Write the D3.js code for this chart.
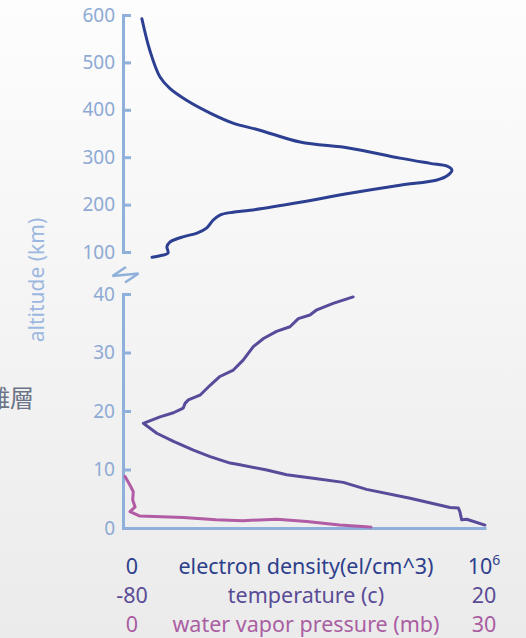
<!DOCTYPE html>
<html><head><meta charset="utf-8">
<script src="https://cdn.jsdelivr.net/npm/d3@7"></script>
<style>
html,body{margin:0;padding:0;}
body{width:526px;height:638px;overflow:hidden;}
</style>
</head><body>
<svg id="c" width="526" height="638"></svg>
<script>
// ---- data ----
// electron density profile: [density el/cm^3, altitude km]
const electronDensity = [
  [52000,592],[74000,525],[102000,469],[129000,445],[175000,420],[240000,393],
  [303000,372],[377000,357],[488000,332],[625000,319],[763000,298],[846000,287],
  [893000,281],[906000,273],[895000,262],[865000,252],[763000,241],[625000,224],
  [488000,205],[350000,188],[303000,184],[267000,178],[248000,167],[231000,151],
  [204000,140],[165000,132],[129000,121],[121000,111],[124000,98],[102000,92],[80000,89]
];
// temperature profile: [temperature C, altitude km]
const temperature = [
  [-16.6,39.5],[-22.1,38.4],[-26.6,37.3],[-28.5,36.4],[-31.7,35.8],[-34,34.4],
  [-37.7,33.6],[-41.3,32.4],[-44.1,31.0],[-46.9,28.7],[-49.6,27.0],[-53.3,25.9],
  [-56,24.4],[-58.8,22.7],[-62,21.9],[-62.9,21.3],[-63.4,20.5],[-66.1,19.7],
  [-69.8,19.0],[-74.4,17.9],[-70.7,16.2],[-66.1,14.8],[-60.6,13.3],[-56,12.2],
  [-50.5,11.1],[-47.8,10.8],[-40.4,9.9],[-34.9,9.1],[-26.6,8.4],[-19.3,7.8],
  [-12.9,6.6],[-0.9,5.1],[10.1,3.5],[12.4,3.4],[12.8,2.8],[13.3,1.4],[14.7,1.5],[19.7,0.5]
];
// water vapour pressure profile: [pressure mb, altitude km]
const waterVapor = [
  [0.17,8.8],[0.58,7.3],[0.85,6.2],[0.8,4.8],[1.0,3.6],[0.58,2.8],[1.4,2.05],
  [5.0,1.8],[7.7,1.4],[9.9,1.25],[12.7,1.5],[15.2,1.1],[17.9,0.5],[20.1,0.2],[20.5,0.15]
];
const upperTicks = [100,200,300,400,500,600];
const lowerTicks = [0,10,20,30,40];
const densityDomain = [0,1e6];
const tempDomain = [-80,20];
const vaporDomain = [0,30];
const bottomRows = [
  {left:"0", name:"electron density(el/cm^3)", right:"10", sup:"6", color:"#2e3f8c"},
  {left:"-80", name:"temperature (c)", right:"20", sup:"", color:"#5a4c96"},
  {left:"0", name:"water vapor pressure (mb)", right:"30", sup:"", color:"#aa5ea2"}
];

// ---- drawing ----
const svg = d3.select("#c");
const defs = svg.append("defs");
const grad = defs.append("linearGradient").attr("id","bg").attr("x1",0).attr("y1",0).attr("x2",0).attr("y2",1);
grad.append("stop").attr("offset","0%").attr("stop-color","#fdfdfd");
grad.append("stop").attr("offset","100%").attr("stop-color","#ebebeb");
svg.append("rect").attr("width",526).attr("height",638).attr("fill","url(#bg)");

const axisColor = "#8fb0da";
const labelColor = "#8eaad4";
const FONT = "'Noto Sans', 'DejaVu Sans', sans-serif";

const x0 = 123, x1 = 486;
const xE = d3.scaleLinear().domain(densityDomain).range([x0,x1]);
const xT = d3.scaleLinear().domain(tempDomain).range([x0,x1]);
const xW = d3.scaleLinear().domain(vaporDomain).range([x0,x1]);
const yU = d3.scaleLinear().domain([100,600]).range([252,15]);
const yL = d3.scaleLinear().domain([0,40]).range([528,294]);

function styleAxis(g){
  g.selectAll("path,line").attr("stroke",axisColor).attr("stroke-width",3);
  g.select(".domain").attr("fill","none");
  g.selectAll("text").attr("fill",labelColor).attr("font-size",19).attr("font-family",FONT);
}

svg.append("g").attr("transform",`translate(${x0},0)`)
  .call(d3.axisLeft(yU).tickValues(upperTicks).tickSize(-8).tickPadding(8).tickFormat(d3.format("d")))
  .call(styleAxis);

svg.append("g").attr("transform",`translate(${x0},0)`)
  .call(d3.axisLeft(yL).tickValues(lowerTicks).tickSize(-8).tickPadding(8).tickFormat(d3.format("d")))
  .call(styleAxis);

svg.append("g").attr("transform",`translate(0,${yL(0)})`)
  .call(d3.axisBottom(xE).tickValues([]).tickSizeOuter(0))
  .call(styleAxis);

// break mark
svg.append("path")
  .attr("d","M126,267 L112.5,276 L138.5,273.5 L125,282.5")
  .attr("fill","none").attr("stroke",axisColor).attr("stroke-width",2.5)
  .attr("stroke-linejoin","miter");

// curves
svg.append("path").datum(electronDensity)
  .attr("d", d3.line().x(d=>xE(d[0])).y(d=>yU(d[1])).curve(d3.curveCatmullRom.alpha(0.5)))
  .attr("fill","none").attr("stroke","#2c3f91").attr("stroke-width",3).attr("stroke-linecap","round");

svg.append("path").datum(temperature)
  .attr("d", d3.line().x(d=>xT(d[0])).y(d=>yL(d[1])))
  .attr("fill","none").attr("stroke","#594a9a").attr("stroke-width",3)
  .attr("stroke-linejoin","round").attr("stroke-linecap","round");

svg.append("path").datum(waterVapor)
  .attr("d", d3.line().x(d=>xW(d[0])).y(d=>yL(d[1])))
  .attr("fill","none").attr("stroke","#b15ca4").attr("stroke-width",3)
  .attr("stroke-linejoin","round").attr("stroke-linecap","round");

// axis title
svg.append("text").attr("transform","translate(44,280) rotate(-90)")
  .attr("text-anchor","middle").attr("fill","#9db8e0").attr("font-size",21)
  .attr("font-family",FONT).text("altitude (km)");

// partial Chinese text at left (cropped in the reference as well)
svg.append("text").attr("x",34).attr("y",407).attr("text-anchor","end")
  .attr("fill","#6b7486").attr("font-size",24)
  .attr("font-family","'Noto Sans CJK TC', sans-serif").text("電離層");

// bottom legend rows
const rowY = [574, 603, 632];
bottomRows.forEach((r,i)=>{
  const g = svg.append("g").attr("font-family",FONT).attr("font-size",21.5).attr("fill",r.color);
  g.append("text").attr("x",132).attr("y",rowY[i]).attr("text-anchor","middle").text(r.left);
  g.append("text").attr("x",306).attr("y",rowY[i]).attr("text-anchor","middle").text(r.name);
  const t = g.append("text").attr("x",484).attr("y",rowY[i]).attr("text-anchor","middle");
  t.append("tspan").text(r.right);
  if(r.sup) t.append("tspan").attr("font-size",14).attr("dy",-9).text(r.sup);
});
</script>
</body></html>
